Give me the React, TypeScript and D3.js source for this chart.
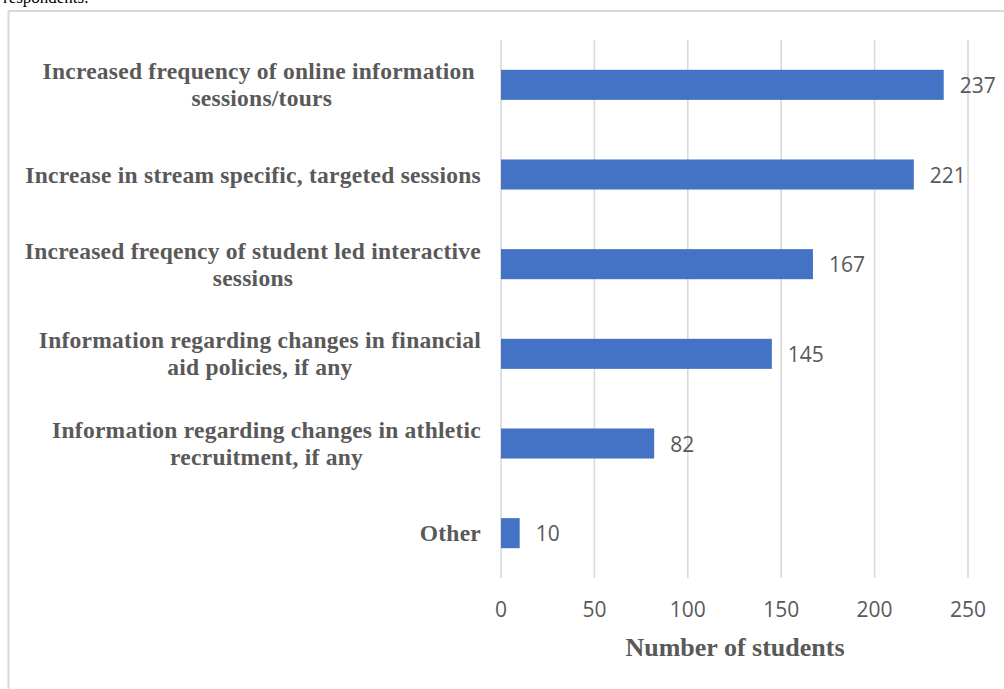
import React, { useEffect, useRef } from "react";
import * as d3 from "d3";

const categories: string[][] = [
  ["Increased frequency of online information ", "sessions/tours"],
  ["Increase in stream specific, targeted sessions"],
  ["Increased freqency of student led interactive", "sessions"],
  ["Information regarding changes in financial", "aid policies, if any"],
  ["Information regarding changes in athletic", "recruitment, if any"],
  ["Other"],
];
const values: number[] = [237, 221, 167, 145, 82, 10];
const ticks: number[] = [0, 50, 100, 150, 200, 250];
const axisTitle = "Number of students";
const topText = "respondents.";

const W = 1004;
const H = 689;

export default function App() {
  const ref = useRef<SVGSVGElement | null>(null);

  useEffect(() => {
    const svg = d3.select(ref.current);
    svg.selectAll("*").remove();

    const x = d3.scaleLinear().domain([0, 250]).range([501, 968]);
    const keys = categories.map((c, i) => String(i));
    const y = d3
      .scaleBand<string>()
      .domain(keys)
      .range([40, 578])
      .paddingInner(0.665)
      .paddingOuter(0.3325);

    // top cut-off text
    svg
      .append("text")
      .attr("x", 3)
      .attr("y", 3)
      .attr("font-family", "'Liberation Serif', serif")
      .attr("font-size", 17)
      .attr("fill", "#000")
      .text(topText);

    // frame (only left & top visible)
    svg
      .append("rect")
      .attr("x", 8.5)
      .attr("y", 11)
      .attr("width", 1100)
      .attr("height", 800)
      .attr("fill", "none")
      .attr("stroke", "#d9d9d9")
      .attr("stroke-width", 2);

    // grid
    svg
      .append("g")
      .selectAll("line")
      .data(ticks)
      .join("line")
      .attr("x1", (d) => x(d))
      .attr("x2", (d) => x(d))
      .attr("y1", 40)
      .attr("y2", 578)
      .attr("stroke", "#d9d9d9")
      .attr("stroke-width", 1.6);

    // tick labels
    svg
      .append("g")
      .selectAll("text")
      .data(ticks)
      .join("text")
      .attr("x", (d) => x(d))
      .attr("y", 617)
      .attr("text-anchor", "middle")
      .attr("font-family", "'Open Sans', sans-serif")
      .attr("font-size", 21)
      .attr("fill", "#595959")
      .text((d) => String(d));

    // bars
    svg
      .append("g")
      .selectAll("rect")
      .data(values)
      .join("rect")
      .attr("x", x(0))
      .attr("y", (d, i) => y(keys[i]) as number)
      .attr("width", (d) => x(d) - x(0))
      .attr("height", y.bandwidth())
      .attr("fill", "#4472c4");

    // value labels
    svg
      .append("g")
      .selectAll("text")
      .data(values)
      .join("text")
      .attr("x", (d) => x(d) + 16)
      .attr("y", (d, i) => (y(keys[i]) as number) + y.bandwidth() / 2 + 8)
      .attr("font-family", "'Open Sans', sans-serif")
      .attr("font-size", 21)
      .attr("fill", "#595959")
      .text((d) => String(d));

    // category labels
    const lineH = 27;
    categories.forEach((lines, i) => {
      const cy = (y(keys[i]) as number) + y.bandwidth() / 2;
      const g = svg.append("g");
      const n = lines.length;
      const texts = lines.map((ln, j) =>
        g
          .append("text")
          .attr("x", 0)
          .attr("y", cy + (j - (n - 1) / 2) * lineH + 8)
          .attr("text-anchor", "middle")
          .attr("font-family", "'Liberation Serif', 'Times New Roman', serif")
          .attr("font-weight", "bold")
          .attr("font-size", 23.5)
          .attr("letter-spacing", 0.25)
          .attr("fill", "#595959")
          .style("white-space", "pre")
          .text(ln)
      );
      const maxW = d3.max(texts, (t) => (t.node() as SVGTextElement).getComputedTextLength()) || 0;
      g.attr("transform", `translate(${481 - maxW / 2},0)`);
    });

    // axis title
    svg
      .append("text")
      .attr("x", 735)
      .attr("y", 656)
      .attr("text-anchor", "middle")
      .attr("font-family", "'Liberation Serif', 'Times New Roman', serif")
      .attr("font-weight", "bold")
      .attr("font-size", 26)
      .attr("fill", "#595959")
      .text(axisTitle);
  }, []);

  return (
    <svg
      ref={ref}
      width={W}
      height={H}
      style={{ position: "absolute", left: 0, top: 0, background: "#fff" }}
    />
  );
}
